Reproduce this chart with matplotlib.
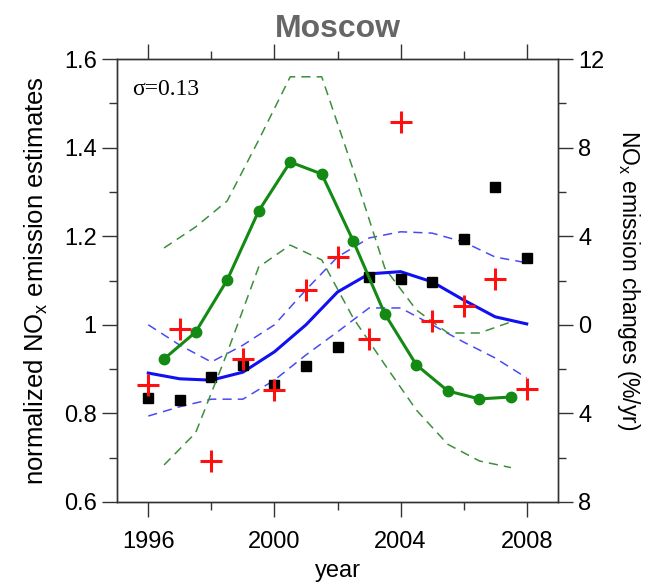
import numpy as np
import matplotlib
matplotlib.use("Agg")
import matplotlib.pyplot as plt
from matplotlib.ticker import MultipleLocator, FixedLocator, FixedFormatter

plt.rcParams['font.family'] = ['Liberation Sans', 'DejaVu Sans']
plt.rcParams['mathtext.default'] = 'regular'

# normalized emission estimates (left axis)
years = [1996, 1997, 1998, 1999, 2000, 2001, 2002, 2003, 2004, 2005, 2006, 2007, 2008]
estimates = [0.835, 0.830, 0.882, 0.909, 0.864, 0.907, 0.950, 1.108, 1.103, 1.097, 1.194, 1.311, 1.151]
fit = [0.891, 0.878, 0.875, 0.893, 0.939, 1.000, 1.074, 1.115, 1.120, 1.097, 1.056, 1.018, 1.002]
fit_upper = [1.000, 0.954, 0.916, 0.954, 1.000, 1.079, 1.153, 1.196, 1.210, 1.207, 1.187, 1.153, 1.140]
fit_lower = [0.794, 0.815, 0.832, 0.832, 0.875, 0.932, 0.984, 1.038, 1.038, 1.000, 0.961, 0.925, 0.880]
left_ticks = [0.6, 0.8, 1.0, 1.2, 1.4, 1.6]
left_labels = ['0.6', '0.8', '1', '1.2', '1.4', '1.6']

# annual emission changes (right axis, %/yr)
change_years = [1996, 1997, 1998, 1999, 2000, 2001, 2002, 2003, 2004, 2005, 2006, 2007, 2008]
changes = [-2.72, -0.19, -6.15, -1.54, -2.94, 1.57, 3.06, -0.64, 9.16, 0.17, 0.85, 2.07, -2.90]
mid_years = [1996.5, 1997.5, 1998.5, 1999.5, 2000.5, 2001.5, 2002.5, 2003.5, 2004.5, 2005.5, 2006.5, 2007.5]
trend = [-1.54, -0.33, 2.02, 5.14, 7.35, 6.81, 3.78, 0.49, -1.81, -2.99, -3.35, -3.26]
trend_upper = [3.47, 4.42, 5.59, 8.34, 11.2, 11.2, 6.99, 2.56, 0.67, -0.37, -0.37, 0.13]
trend_lower = [-6.33, -4.88, -1.27, 2.61, 3.60, 2.93, 0.30, -1.80, -3.85, -5.40, -6.15, -6.45]
right_ticks = [-8, -4, 0, 4, 8, 12]
right_labels = ['8', '4', '0', '4', '8', '12']

green = '#138a13'
blue = '#1010f0'

fig = plt.figure(figsize=(6.56, 5.85), dpi=100)
ax = fig.add_axes([0.178, 0.142, 0.673, 0.757])
ax2 = ax.twinx()

ax.plot(years, fit, color=blue, lw=2.2, zorder=3)
ax.plot(years, fit_upper, color='#4a4af5', lw=1.1, dashes=(6, 4))
ax.plot(years, fit_lower, color='#4a4af5', lw=1.1, dashes=(6, 4))
ax.plot(years, estimates, 's', color='black', ms=7.5, zorder=4)

ax2.plot(mid_years, trend_upper, color='#3c8f3c', lw=1.1, dashes=(6, 4))
ax2.plot(mid_years, trend_lower, color='#3c8f3c', lw=1.1, dashes=(6, 4))
ax2.plot(mid_years, trend, '-o', color=green, lw=2.2, ms=7.5)
ax2.plot(change_years, changes, '+', color='#ff1010', ms=15.5, mew=2.2, zorder=5)

ax.set_xlim(1995, 2009)
ax.set_ylim(0.6, 1.6)
ax2.set_ylim(-8, 12)

ax.set_xticks([1996, 2000, 2004, 2008])
ax.xaxis.set_minor_locator(FixedLocator([1998, 2002, 2006]))
ax.yaxis.set_major_locator(FixedLocator(left_ticks))
ax.yaxis.set_major_formatter(FixedFormatter(left_labels))
ax.yaxis.set_minor_locator(FixedLocator([0.7, 0.9, 1.1, 1.3, 1.5]))

ax2.yaxis.set_major_locator(FixedLocator(right_ticks))
ax2.yaxis.set_major_formatter(FixedFormatter(right_labels))
ax2.yaxis.set_minor_locator(FixedLocator([-6, -2, 2, 6, 10]))

for a in (ax, ax2):
    for s in a.spines.values():
        s.set_color('#333333')
        s.set_linewidth(1.0)
ax.tick_params(axis='both', which='major', direction='out', length=11, width=1.0,
               color='#333333', labelsize=17)
ax.tick_params(axis='both', which='minor', direction='out', length=6, width=1.0,
               color='#333333')
ax.tick_params(axis='x', which='both', top=True, labeltop=False)
ax.tick_params(axis='x', which='major', pad=10)
ax2.tick_params(axis='y', which='major', direction='out', length=11, width=1.0,
                color='#333333', labelsize=17)
ax2.tick_params(axis='y', which='minor', direction='out', length=6, width=1.0,
                color='#333333')

ax.set_xlabel('year', fontsize=17, labelpad=5)
ax.set_ylabel('normalized NO$_x$ emission estimates', fontsize=18.5, labelpad=10)
ax2.set_ylabel('NO$_x$ emission changes (%/yr)', fontsize=16.5, rotation=-90, labelpad=27)

ax.set_title('Moscow', fontsize=23, fontweight='bold', color='#666666', pad=16)
ax.text(0.035, 0.955, 'σ=0.13', transform=ax.transAxes, fontsize=17,
        family='Liberation Serif', va='top', ha='left')

fig.savefig('out.png', dpi=100)
